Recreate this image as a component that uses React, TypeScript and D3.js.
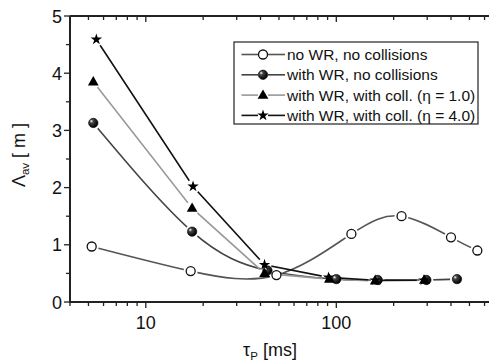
import React from "react";
import * as d3 from "d3";

const xNoWR = [5.2, 17.2, 48.5, 120, 220, 400, 550];
const yNoWR = [0.97, 0.54, 0.47, 1.19, 1.5, 1.13, 0.9];
const xWR = [5.3, 17.5, 43.5, 100, 165, 297, 430];
const yWR = [3.13, 1.23, 0.55, 0.4, 0.385, 0.385, 0.4];
const xEta1 = [5.3, 17.5, 42, 92, 160, 290];
const yEta1 = [3.85, 1.64, 0.5, 0.4, 0.37, 0.38];
const xEta4 = [5.5, 17.7, 42, 91, 160, 288];
const yEta4 = [4.59, 2.02, 0.65, 0.43, 0.38, 0.38];
const seriesNames = [
  "no WR, no collisions",
  "with WR, no collisions",
  "with WR, with coll. (\u03b7 = 1.0)",
  "with WR, with coll. (\u03b7 = 4.0)",
];
const yTicks = [0, 1, 2, 3, 4, 5];
const xTickLabels = [10, 100];

const W = 489, H = 364;
const x = d3.scaleLog().domain([4, 1000]).range([70, 70 + 190.5 * Math.log10(250)]);
const y = d3.scaleLinear().domain([0, 5]).range([302, 16]);

type S = { xs: number[]; ys: number[]; color: string; curve: any; marker: string; name: string };
const series: S[] = [
  { xs: xNoWR, ys: yNoWR, color: "#555", curve: d3.curveNatural, marker: "open", name: seriesNames[0] },
  { xs: xWR, ys: yWR, color: "#444", curve: d3.curveNatural, marker: "sphere", name: seriesNames[1] },
  { xs: xEta1, ys: yEta1, color: "#999", curve: d3.curveLinear, marker: "tri", name: seriesNames[2] },
  { xs: xEta4, ys: yEta4, color: "#111", curve: d3.curveLinear, marker: "star", name: seriesNames[3] },
];

const starPath = d3.symbol().type(d3.symbolStar).size(40)() as string;
const triPath = d3.symbol().type(d3.symbolTriangle).size(50)() as string;

function Marker({ kind, cx, cy }: { kind: string; cx: number; cy: number }) {
  if (kind === "open")
    return <circle cx={cx} cy={cy} r={4.5} fill="#fff" stroke="#111" strokeWidth={1.3} />;
  if (kind === "sphere")
    return <circle cx={cx} cy={cy} r={4.7} fill="url(#sph)" stroke="#000" strokeWidth={0.6} />;
  if (kind === "tri") return <path d={triPath} transform={`translate(${cx},${cy + 0.5})`} fill="#000" />;
  return <path d={starPath} transform={`translate(${cx},${cy})`} fill="#000" />;
}

export default function App() {
  const minor: number[] = [];
  for (const dec of [1, 10, 100]) for (let k = 1; k <= 9; k++) minor.push(dec * k);
  const minorX = minor.filter((v) => v >= 4 && x(v) <= W + 2);
  const minorY = d3.range(0, 5.01, 0.5);
  const legX = 234, legY = 42;
  const rows = [54.5, 74.8, 95.1, 115.4];
  return (
    <svg width={W} height={H} style={{ position: "absolute", left: 0, top: 0 }}
      fontFamily="'Liberation Sans', Arial, sans-serif">
      <defs>
        <radialGradient id="sph" cx="0.35" cy="0.35" r="0.65" fx="0.3" fy="0.3">
          <stop offset="0" stopColor="#fff" />
          <stop offset="0.3" stopColor="#444" />
          <stop offset="1" stopColor="#000" />
        </radialGradient>
        {series.map((s, i) => (
          <mask id={`m${i}`} key={i} maskUnits="userSpaceOnUse" x={0} y={0} width={W} height={H}>
            <rect x={0} y={0} width={W} height={H} fill="#fff" />
            {s.xs.map((v, j) => (
              <circle key={j} cx={x(v)} cy={y(s.ys[j])} r={7} fill="#000" />
            ))}
          </mask>
        ))}
      </defs>
      <rect width={W} height={H} fill="#fff" />
      {series.map((s, i) => {
        const line = d3.line<number>().x((v) => x(v)).y((_, j) => y(s.ys[j])).curve(s.curve);
        return (
          <path key={i} d={line(s.xs) as string} fill="none" stroke={s.color} strokeWidth={1.6} mask={`url(#m${i})`} />
        );
      })}
      {series.map((s, i) => (
        <g key={i}>
          {s.xs.map((v, j) => (
            <Marker key={j} kind={s.marker} cx={x(v)} cy={y(s.ys[j])} />
          ))}
        </g>
      ))}
      <line x1={70} x2={W} y1={302} y2={302} stroke="#222" strokeWidth={2} />
      <line x1={70} x2={W} y1={16} y2={16} stroke="#222" strokeWidth={2} />
      <line x1={70} x2={70} y1={16} y2={303} stroke="#222" strokeWidth={2} />
      {minorX.map((v, i) => {
        const major = v === 10 || v === 100;
        return (
          <g key={i}>
            <line x1={x(v)} x2={x(v)} y1={302} y2={major ? 308 : 306} stroke="#222" strokeWidth={1.3} />
            <line x1={x(v)} x2={x(v)} y1={16} y2={major ? 22 : 20} stroke="#222" strokeWidth={1.3} />
          </g>
        );
      })}
      {minorY.map((v, i) => {
        const major = Math.abs(v - Math.round(v)) < 1e-6;
        return <line key={i} x1={major ? 64 : 66} x2={70} y1={y(v)} y2={y(v)} stroke="#222" strokeWidth={1.3} />;
      })}
      {yTicks.map((v) => (
        <text key={v} x={62} y={y(v) + 6.5} textAnchor="end" fontSize={18} fill="#111">{v}</text>
      ))}
      {xTickLabels.map((v) => (
        <text key={v} x={x(v)} y={328.5} textAnchor="middle" fontSize={18} fill="#111">{v}</text>
      ))}
      <text x={270} y={356} textAnchor="middle" fontSize={18} fill="#111">
        {"\u03c4"}<tspan fontSize={11.5} dy={4}>P</tspan><tspan dy={-4}>{" [ms]"}</tspan>
      </text>
      <text transform="translate(25,155) rotate(-90)" textAnchor="middle" fontSize={18} fill="#111">
        {"\u039b"}<tspan fontSize={11.5} dy={4}>av</tspan><tspan dy={-4}>{" [ m ]"}</tspan>
      </text>
      <rect x={legX} y={legY} width={244} height={82} fill="#fff" stroke="#222" strokeWidth={1.2} />
      {series.map((s, i) => (
        <g key={i}>
          <line x1={241.5} x2={258} y1={rows[i]} y2={rows[i]} stroke={s.color} strokeWidth={1.6} />
          <line x1={268} x2={285} y1={rows[i]} y2={rows[i]} stroke={s.color} strokeWidth={1.6} />
          <Marker kind={s.marker} cx={263} cy={rows[i]} />
          <text x={287} y={rows[i] + 5.5} fontSize={15.5} fill="#111">{s.name}</text>
        </g>
      ))}
    </svg>
  );
}
